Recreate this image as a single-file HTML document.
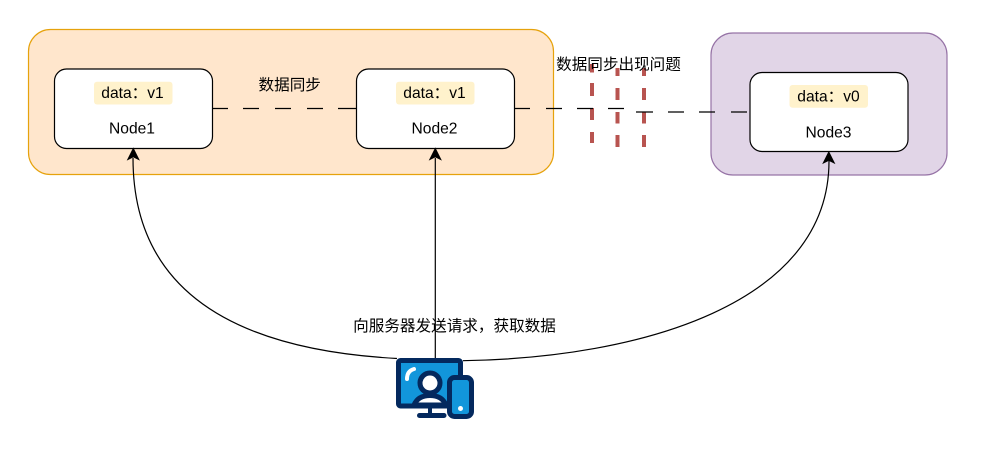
<!DOCTYPE html>
<html>
<head>
<meta charset="utf-8">
<style>
html,body{margin:0;padding:0;background:#fff;}
body{width:997px;height:468px;overflow:hidden;}
svg{display:block;}
text{font-family:"Liberation Sans","Noto Sans CJK SC",sans-serif;font-size:15.6px;fill:#000;text-anchor:middle;}
</style>
</head>
<body>
<svg width="997" height="468" viewBox="0 0 997 468" xmlns="http://www.w3.org/2000/svg">
<!-- groups -->
<rect x="28.500" y="29.500" width="525" height="145" rx="22" fill="#ffe6cc" stroke="#e6a20c" stroke-width="1.200"/>
<rect x="711" y="33" width="236" height="142" rx="22" fill="#e1d5e7" stroke="#9673a6" stroke-width="1.200"/>

<!-- red dashes -->
<g fill="#b85450">
<rect x="590" y="64" width="4" height="8.500"/>
<rect x="590" y="83" width="4" height="13"/>
<rect x="590" y="108" width="4" height="12"/>
<rect x="590" y="132" width="4" height="11"/>
<rect x="615.500" y="68" width="4" height="8"/>
<rect x="615.500" y="88" width="4" height="12"/>
<rect x="615.500" y="112" width="4" height="11.500"/>
<rect x="615.500" y="135" width="4" height="12"/>
<rect x="642" y="68" width="4" height="8"/>
<rect x="642" y="88" width="4" height="12"/>
<rect x="642" y="112" width="4" height="11.500"/>
<rect x="642" y="135" width="4" height="12"/>
</g>

<!-- dashed connectors -->
<path d="M212 108.500h16M243 108.500h16M275 108.500h16M307 108.500h16M338 108.500h18" fill="none" stroke="#000" stroke-width="1.200"/>
<path d="M514 108.500h16M546 108.500h16M577 108.500h16M608 108.500h16" fill="none" stroke="#000" stroke-width="1.200"/>
<path d="M636 112h17M668 112h16M699 112h16M731 112h16" fill="none" stroke="#000" stroke-width="1.200"/>

<!-- nodes -->
<rect x="54.500" y="69" width="158" height="79.500" rx="12" fill="#fff" stroke="#000" stroke-width="1.200"/>
<rect x="356.500" y="69" width="158" height="79.500" rx="12" fill="#fff" stroke="#000" stroke-width="1.200"/>
<rect x="750" y="72.500" width="158" height="79" rx="12" fill="#fff" stroke="#000" stroke-width="1.200"/>

<rect x="94" y="81.700" width="78.500" height="22.800" rx="3" fill="#fff2cc"/>
<rect x="396" y="81.700" width="78.500" height="22.800" rx="3" fill="#fff2cc"/>
<rect x="789.500" y="85" width="78.500" height="22.800" rx="3" fill="#fff2cc"/>

<text x="132.500" y="98">data：v1</text>
<text x="434.500" y="98">data：v1</text>
<text x="828.500" y="101.500">data：v0</text>
<text x="132" y="133.500">Node1</text>
<text x="434.500" y="133.500">Node2</text>
<text x="828.500" y="137.500">Node3</text>

<text x="289.700" y="90">数据同步</text>
<text x="618.500" y="69.500">数据同步出现问题</text>

<!-- curved connectors -->
<path d="M397 358.500C240 350 133 295 133 158" fill="none" stroke="#000" stroke-width="1.200"/>
<path d="M435.300 358V158" fill="none" stroke="#000" stroke-width="1.200"/>
<path d="M463 360.700C640 358 829 304 829 161" fill="none" stroke="#000" stroke-width="1.200"/>
<path d="M133.300 148.500l-5.500 11 5.500-2.700 5.500 2.700z" fill="#000" stroke="#000"/>
<path d="M435.300 148.500l-5.500 11 5.500-2.700 5.500 2.700z" fill="#000" stroke="#000"/>
<path d="M828.800 152l-5.500 11 5.500-2.700 5.500 2.700z" fill="#000" stroke="#000"/>

<text x="454.500" y="331">向服务器发送请求，获取数据</text>

<!-- device icon -->
<rect x="398.500" y="360.500" width="62" height="45.500" rx="2" fill="#1296db" stroke="#04295e" stroke-width="5"/>
<path d="M430 406V415" stroke="#04295e" stroke-width="4"/>
<path d="M419.500 415.500H444" stroke="#04295e" stroke-width="5" stroke-linecap="round"/>
<path d="M407 379Q407 371 414 369" fill="none" stroke="#fff" stroke-width="4" stroke-linecap="round"/>
<path d="M414 405Q418 395.500 430 395.500Q442 395.500 446 405Z" fill="#fff" stroke="#04295e" stroke-width="5" stroke-linejoin="round"/>
<circle cx="430" cy="383" r="10" fill="#fff" stroke="#04295e" stroke-width="5"/>
<rect x="449.500" y="377.500" width="22" height="39" rx="5" fill="#1296db" stroke="#04295e" stroke-width="5"/>
<circle cx="460.500" cy="408.500" r="2.500" fill="#fff"/>
</svg>
</body>
</html>
